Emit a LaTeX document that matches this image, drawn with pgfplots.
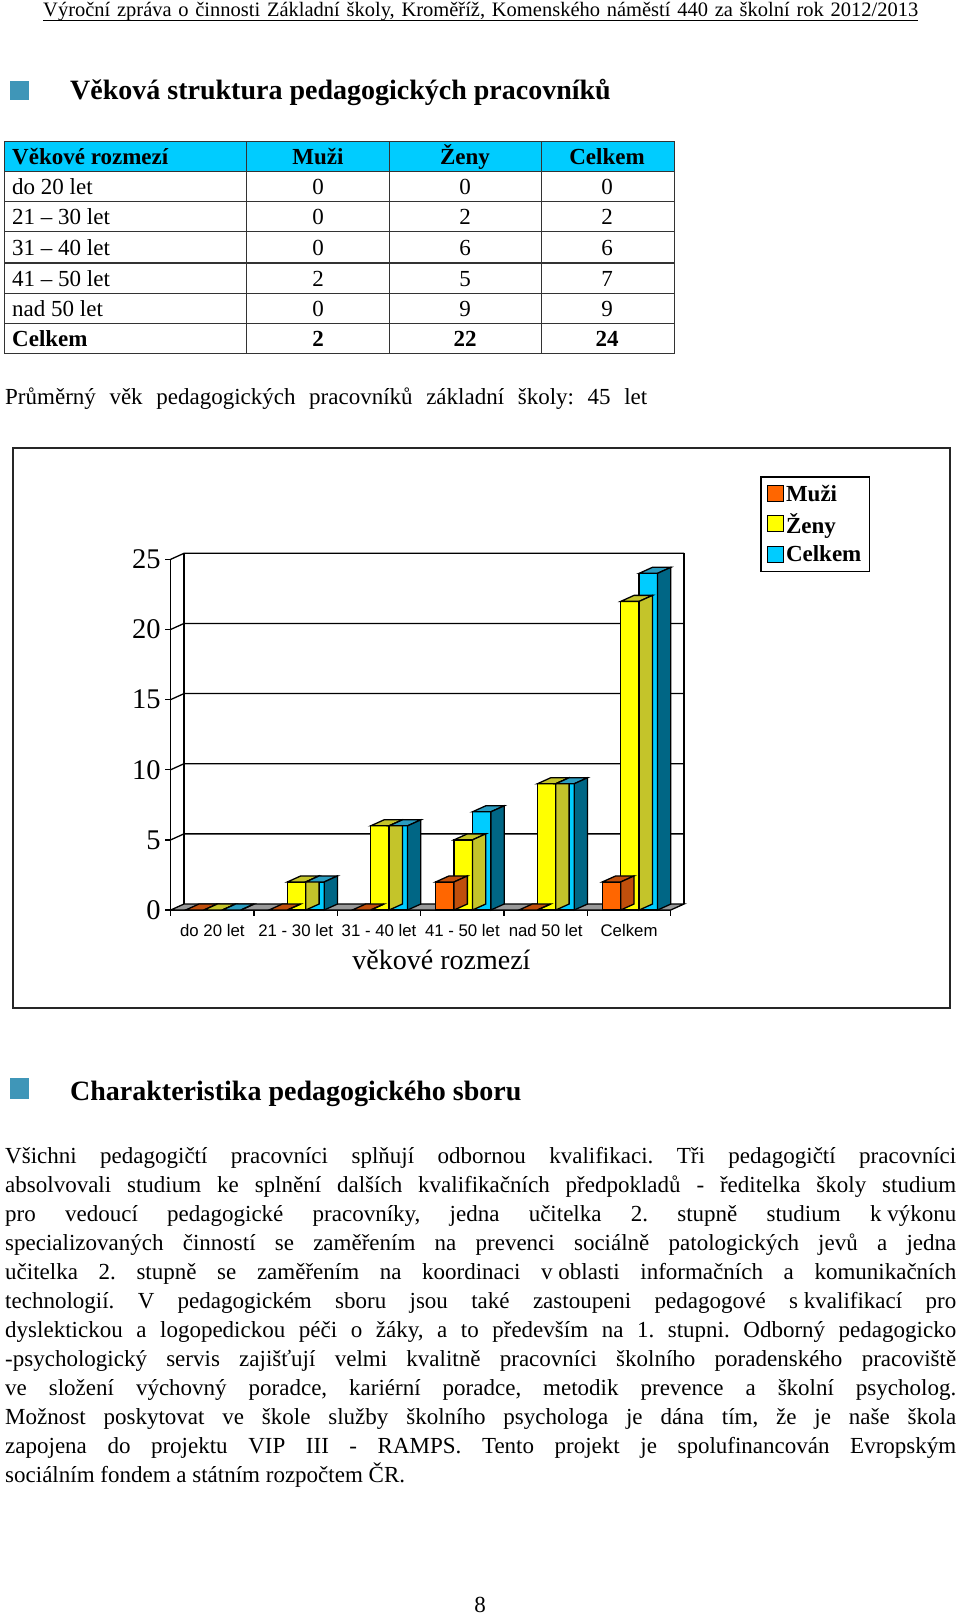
\documentclass[border=0pt]{standalone}
\usepackage{fontspec}
\setmainfont{Liberation Serif}
\newfontfamily\arial{Liberation Sans}
\usepackage{pgfplots}
\pgfplotsset{compat=1.18}
\frenchspacing

\definecolor{muzi}{HTML}{FF6600}
\definecolor{muzitop}{HTML}{C04F0C}
\definecolor{zeny}{HTML}{FFFF00}
\definecolor{zenytop}{HTML}{C4C42A}
\definecolor{celkem}{HTML}{00CCFF}
\definecolor{celkemtop}{HTML}{2A9CC0}
\definecolor{celkemside}{HTML}{006685}
\definecolor{floorgray}{HTML}{999999}
\definecolor{bullet}{HTML}{3F96B8}

\newcommand{\fs}[1]{\fontsize{#1}{#1}\selectfont}
\newcommand{\bodyline}[2]{\node[anchor=base west,inner sep=0pt,font=\fs{23}] at (5,#1) {\frenchspacing\makebox[951pt][s]{#2}};}
\newcommand{\nb}{\hspace{0.25em}}

% top and side of a bar, drawn from the bar's value
% #1 left edge of front (pt from x), #2 right edge, #3 top colour, #4 side colour
\pgfplotsset{
  box3d/.style n args={4}{
    scatter, only marks, mark=none, forget plot,
    visualization depends on={y \as \barval},
    scatter/@pre marker code/.code={
      \pgfmathsetmacro\h{\barval*14.03}
      \fill[#3,draw=black,line width=1.3pt] (#1pt,0pt) -- (#1pt+13.3pt,6pt) -- (#2pt+13.3pt,6pt) -- (#2pt,0pt) -- cycle;
      \fill[#4,draw=black,line width=1.3pt] (#2pt,0pt) -- (#2pt+13.3pt,6pt) -- (#2pt+13.3pt,6pt-\h pt) -- (#2pt,-\h pt) -- cycle;
    },
    scatter/@post marker code/.code={},
  },
  front/.style n args={2}{ybar, bar width=18.4pt, bar shift=#1pt, fill=#2, draw=black, line width=1.3pt},
}

\pgfplotstableread{
x    muzi zeny celkem
0.5  0    0    0
1.5  0    2    2
2.5  0    6    6
3.5  2    5    7
4.5  0    9    9
5.5  2    22   24
}\agedata

\begin{document}
\begin{tikzpicture}[x=1pt,y=-1pt]
\path[fill=white] (0,0) rectangle (960,1613);

% page header
\node[anchor=base west,inner sep=0pt,font=\fs{20.5}] at (43,17) {\frenchspacing\makebox[875pt][s]{Výroční zpráva o činnosti Základní školy, Kroměříž, Komenského náměstí 440 za školní rok 2012/2013}};
\draw[line width=0.8pt] (43,20) -- (918,20);

% heading 1
\fill[bullet] (10,81) rectangle (29,100);
\node[anchor=base west,inner sep=0pt,font=\fs{28}\bfseries] at (70,100) {Věková struktura pedagogických pracovníků};

% table
\fill[celkem] (4,142) rectangle (674,172);
\draw[line width=1pt,black!80] (4,142) rectangle (674,353);
\foreach \yy in {172,202,232,263,293,323} \draw[line width=1pt,black!80] (4,\yy) -- (674,\yy);
\foreach \xx in {246,389,541} \draw[line width=1pt,black!80] (\xx,142) -- (\xx,353);
\node[anchor=base west,inner sep=0pt,font=\fs{23}\bfseries] at (12,165) {Věkové rozmezí};
\node[anchor=base,inner sep=0pt,font=\fs{23}\bfseries] at (318,165) {Muži};
\node[anchor=base,inner sep=0pt,font=\fs{23}\bfseries] at (465,165) {Ženy};
\node[anchor=base,inner sep=0pt,font=\fs{23}\bfseries] at (607,165) {Celkem};
\foreach \yy/\a/\b/\c/\d in {195/do 20 let/0/0/0,225/21 -- 30 let/0/2/2,255/31 -- 40 let/0/6/6,286/41 -- 50 let/2/5/7,316/nad 50 let/0/9/9}{
  \node[anchor=base west,inner sep=0pt,font=\fs{23}] at (12,\yy) {\a};
  \node[anchor=base,inner sep=0pt,font=\fs{23}] at (318,\yy) {\b};
  \node[anchor=base,inner sep=0pt,font=\fs{23}] at (465,\yy) {\c};
  \node[anchor=base,inner sep=0pt,font=\fs{23}] at (607,\yy) {\d};
}
\node[anchor=base west,inner sep=0pt,font=\fs{23}\bfseries] at (12,346) {Celkem};
\node[anchor=base,inner sep=0pt,font=\fs{23}\bfseries] at (318,346) {2};
\node[anchor=base,inner sep=0pt,font=\fs{23}\bfseries] at (465,346) {22};
\node[anchor=base,inner sep=0pt,font=\fs{23}\bfseries] at (607,346) {24};

\node[anchor=base west,inner sep=0pt,font=\fs{23}] at (5,404) {\frenchspacing\makebox[642pt][s]{Průměrný věk pedagogických pracovníků základní školy: 45 let}};

% chart frame
\draw[line width=2pt,black!85] (12.5,448) rectangle (950,1008);

\begin{axis}[
  at={(170.7pt,-910pt)}, anchor=origin,
  scale only axis, width=500pt, height=350.7pt,
  xmin=0, xmax=6, ymin=0, ymax=25,
  clip=false,
  axis x line*=bottom, axis y line*=left,
  axis line style={-,line width=1.3pt},
  tick style={black,line width=1.3pt},
  tick align=outside, major tick length=5.5pt,
  xtick={0,1,2,3,4,5,6}, xticklabels={},
  extra x ticks={0.5,1.5,2.5,3.5,4.5,5.5},
  extra x tick labels={do 20 let,21 - 30 let,31 - 40 let,41 - 50 let,nad 50 let,Celkem},
  extra x tick style={major tick length=0pt, tick style={draw=none},
    xticklabel style={font=\arial\fs{16.8}, inner sep=0pt, anchor=base, yshift=-26pt}},
  ytick={0,5,10,15,20,25},
  yticklabel style={font=\fs{28.5}, inner sep=0pt, anchor=east, xshift=-4.5pt},
  /pgf/number format/assume math mode=true,
  xlabel={věkové rozmezí},
  xlabel style={font=\fs{28}, inner sep=0pt, anchor=center, at={(rel axis cs:0.5416,-0.1426)}},
  legend style={at={(rel axis cs:1.1786,1.2375)}, anchor=north west, draw=black, line width=1.6pt,
    font=\fs{23}\bfseries, inner sep=0pt, legend cell align=left, row sep=7pt,
    inner xsep=6pt, inner ysep=6pt},
  legend image code/.code={\draw[fill=#1,draw=black,line width=1.2pt] (0pt,-7.5pt) rectangle (16pt,8.5pt);},
]
% floor and back wall
\draw[fill=floorgray,draw=black,line width=1.3pt] (axis cs:0,0) -- (axis cs:0.16,0.428) -- (axis cs:6.16,0.428) -- (axis cs:6,0) -- cycle;
\draw[line width=1.3pt] (axis cs:0.16,0.428) -- (axis cs:0.16,25.428) -- (axis cs:6.16,25.428) -- (axis cs:6.16,0.428);
\foreach \v in {5,10,15,20,25}{
  \edef\temp{\noexpand\draw[line width=1.3pt] (axis cs:0,\v) -- (axis cs:0.16,\v+0.428) -- (axis cs:6.16,\v+0.428);}
  \temp
}

\addplot[box3d={-26.7}{-8.3}{muzitop}{muzitop}] table[x=x,y=muzi] {\agedata};
\addplot[front={-17.5}{muzi}, forget plot] table[x=x,y=muzi] {\agedata};
\addplot[box3d={-8.3}{10.1}{zenytop}{zenytop}] table[x=x,y=zeny] {\agedata};
\addplot[front={0.9}{zeny}, forget plot] table[x=x,y=zeny] {\agedata};
\addplot[box3d={10.1}{28.5}{celkemtop}{celkemside}] table[x=x,y=celkem] {\agedata};
\addplot[front={19.3}{celkem}, forget plot] table[x=x,y=celkem] {\agedata};

\addlegendimage{muzi}\addlegendentry{Muži}
\addlegendimage{zeny}\addlegendentry{Ženy}
\addlegendimage{celkem}\addlegendentry{Celkem}
\end{axis}

% heading 2
\fill[bullet] (10,1078) rectangle (29,1099);
\node[anchor=base west,inner sep=0pt,font=\fs{28}\bfseries] at (70,1100) {Charakteristika pedagogického sboru};

% body text
\bodyline{1163}{Všichni pedagogičtí pracovníci splňují odbornou kvalifikaci. Tři pedagogičtí pracovníci}
\bodyline{1192}{absolvovali studium ke splnění dalších kvalifikačních předpokladů - ředitelka školy studium}
\bodyline{1221}{pro vedoucí pedagogické pracovníky, jedna učitelka 2. stupně studium k\nb výkonu}
\bodyline{1250}{specializovaných činností se zaměřením na prevenci sociálně patologických jevů a jedna}
\bodyline{1279}{učitelka 2. stupně se zaměřením na koordinaci v\nb oblasti informačních a komunikačních}
\bodyline{1308}{technologií. V pedagogickém sboru jsou také zastoupeni pedagogové s\nb kvalifikací pro}
\bodyline{1337}{dyslektickou a logopedickou péči o žáky, a to především na 1. stupni. Odborný pedagogicko}
\bodyline{1366}{-psychologický servis zajišťují velmi kvalitně pracovníci školního poradenského pracoviště}
\bodyline{1395}{ve složení výchovný poradce, kariérní poradce, metodik prevence a školní psycholog.}
\bodyline{1424}{Možnost poskytovat ve škole služby školního psychologa je dána tím, že je naše škola}
\bodyline{1453}{zapojena do projektu VIP III - RAMPS. Tento projekt je spolufinancován Evropským}
\node[anchor=base west,inner sep=0pt,font=\fs{23}] at (5,1482) {sociálním fondem a státním rozpočtem ČR.};

% page number
\node[anchor=base,inner sep=0pt,font=\fs{23}] at (480,1612) {8};
\end{tikzpicture}
\end{document}
